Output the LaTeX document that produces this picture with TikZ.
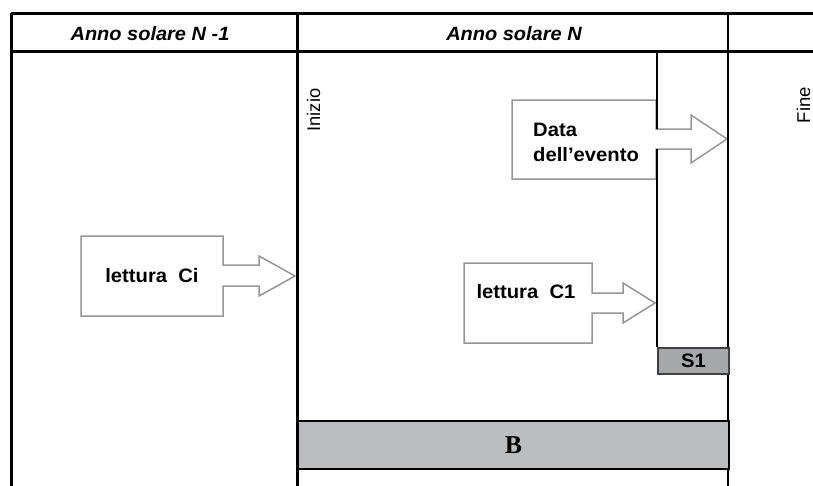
\documentclass[tikz,border=0pt]{standalone}
\usepackage{fontspec}
\setmainfont{Liberation Sans}
\newfontfamily\widesans[FakeStretch=1.04]{Liberation Sans}
\newfontfamily\timesfont{Liberation Serif}
\usetikzlibrary{positioning}
\definecolor{rim}{RGB}{150,150,150}
\definecolor{barfill}{RGB}{188,189,192}
\definecolor{slotfill}{RGB}{166,167,170}
\tikzset{
  rule/.style={line width=0.9mm,black},
  thinrule/.style={line width=0.6mm,black},
  callout/.style={draw=rim,fill=white,line width=0.45mm,line join=miter},
  lbl/.style={font=\widesans\bfseries\fontsize{16.6}{21.3}\selectfont,inner sep=0pt},
  head/.style={font=\widesans\bfseries\itshape\fontsize{16.4}{17}\selectfont,inner sep=0pt},
  side/.style={font=\fontsize{15.6}{17}\selectfont,rotate=90,anchor=base,inner sep=0pt},
  slot/.style={draw=black!75,fill=slotfill,line width=0.6mm,anchor=north west,
    minimum width=21.3mm,minimum height=7.8mm,
    font=\widesans\bfseries\fontsize{16.6}{17}\selectfont},
  bar/.style={draw=black,fill=barfill,line width=0.6mm,anchor=north west,
    minimum width=129.3mm,minimum height=14.4mm,
    font=\timesfont\bfseries\fontsize{22}{24}\selectfont},
}
\begin{document}
\begin{tikzpicture}[x=0.3mm,y=-0.3mm]
\useasboundingbox (0,0) rectangle (813,486);

% block arrows
\draw[callout] (81,236) -- (223,236) -- (223,265) -- (259,265) -- (259,256) -- (295,276)
  -- (259,296) -- (259,286) -- (223,286) -- (223,316) -- (81,316) -- cycle;
\draw[callout] (464,263) -- (592,263) -- (592,293) -- (623,293) -- (623,283) -- (655,303)
  -- (623,323) -- (623,313) -- (592,313) -- (592,343) -- (464,343) -- cycle;
\draw[callout] (512,100) -- (656,100) -- (656,129) -- (691,129) -- (691,115) -- (727,139)
  -- (691,163) -- (691,149) -- (656,149) -- (656,179) -- (512,179) -- cycle;

% grid
\draw[rule] (11,13) -- (813,13);
\draw[rule] (11,51) -- (813,51);
\draw[rule] (11,13) -- (11,486);
\draw[rule] (297,13) -- (297,486);
\draw[thinrule] (728,13) -- (728,486);
\draw[thinrule] (657,51) -- (657,129) (657,149) -- (657,347);

\node[head] (prev) at (150,34) {Anno solare N -1};
\node[head] (cur) at (514,34) {Anno solare N};
\node[side] (start) at (320,110) {Inizio};
\node[side,font=\fontsize{15.8}{18}\selectfont] (stop) at (810,105) {Fine};

\node[lbl] (ci) at (152,276) {lettura\ \ Ci};
\node[lbl] (c1) at (526,292) {lettura\ \ C1};
\node[lbl,align=left,anchor=west] (event) at (533,142) {Data\\dell’evento};

\node[slot] (s1) at (657,347) {S1};
\node[bar] (b) at (297,420) {B};
\end{tikzpicture}
\end{document}
